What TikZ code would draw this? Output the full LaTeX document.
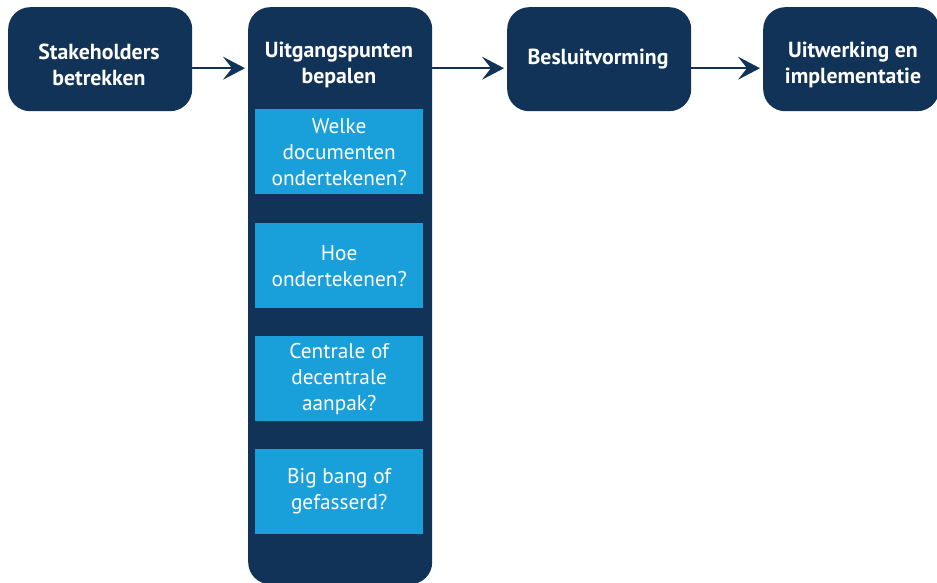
\documentclass[tikz,border=0pt]{standalone}
\usepackage{fontspec}
\setmainfont{PT Sans}
\usetikzlibrary{arrows.meta}
\definecolor{navy}{HTML}{123358}
\definecolor{sky}{HTML}{199FDA}
\begin{document}
\begin{tikzpicture}[x=1pt,y=-1pt,
  phase/.style={fill=navy, rounded corners=22pt, minimum width=184pt, minimum height=104pt,
    anchor=north west, inner sep=0pt},
  phasetext/.style={text=white, font=\bfseries\fontsize{21.8}{26.5}\selectfont, align=center, inner sep=0pt},
  question/.style={fill=sky, text=white, minimum width=168pt, minimum height=85pt,
    anchor=north west, inner sep=0pt, align=center, font=\fontsize{21.3}{26}\selectfont},
  flow/.style={draw=navy, line width=2pt, -{Stealth[length=22pt,width=23pt,inset=9pt]}, shorten >=3pt}]
\useasboundingbox (0,0) rectangle (937,583);

% stage boxes
\node[phase] (b1) at (8,7) {};
\node[phase, minimum height=577pt] (b2) at (248,7) {};
\node[phase] (b3) at (507,7) {};
\node[phase, minimum width=176pt] (b4) at (763,7) {};

% stage titles
\node[phasetext] (t1) at (99,65) {Stakeholders\\betrekken};
\node[phasetext] (t2) at (339,65) {Uitgangspunten\\bepalen};
\node[phasetext] (t3) at (598,59) {Besluitvorming};
\node[phasetext] (t4) at (853,65) {Uitwerking en\\implementatie};

% questions inside the second stage
\node[question] (q1) at (255,109) {Welke\\documenten\\ondertekenen?};
\node[question] (q2) at (255,223) {Hoe\\ondertekenen?};
\node[question] (q3) at (255,336) {Centrale of\\decentrale\\aanpak?};
\node[question] (q4) at (255,449) {Big bang of\\gefasserd?};

% connectors
\draw[flow] ([yshift=-9pt]b1.east) -- ([yshift=-9pt]b1.east -| b2.west);
\draw[flow] ([yshift=-9pt]b3.west -| b2.east) -- ([yshift=-9pt]b3.west);
\draw[flow] ([yshift=-9pt]b3.east) -- ([yshift=-9pt]b3.east -| b4.west);
\end{tikzpicture}
\end{document}
